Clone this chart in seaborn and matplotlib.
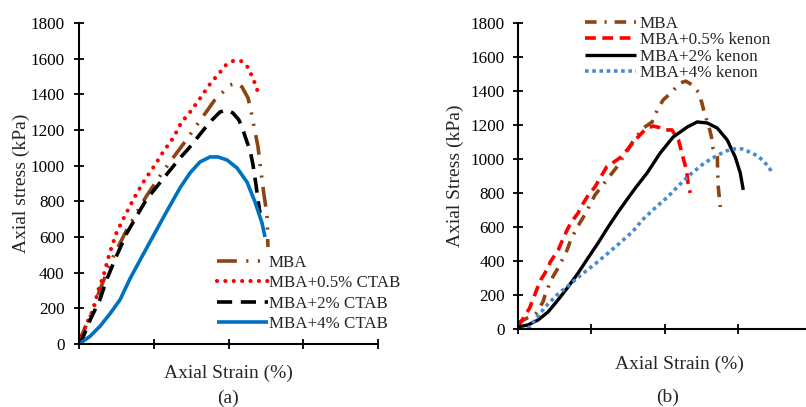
import numpy as np
import pandas as pd
import matplotlib
matplotlib.use("Agg")
import matplotlib.pyplot as plt
import seaborn as sns

sns.set_style("white")
plt.rcParams['font.family'] = ['Liberation Serif', 'DejaVu Serif']

# ---------------- Panel (a): CTAB ----------------
a_mba_x = [0.0, 0.01, 0.15, 0.28, 0.46, 0.64, 0.77, 0.90, 1.08, 1.24, 1.44, 1.605, 1.712, 1.806, 1.926,
           2.020, 2.114, 2.181, 2.261, 2.301, 2.395, 2.435, 2.475, 2.515, 2.528]
a_mba_y = [0, 24, 155, 305, 492, 641, 735, 828, 940, 1034, 1146, 1245, 1307, 1363, 1413,
           1452, 1464, 1441, 1380, 1307, 1105, 965, 836, 723, 544]

a_c05_x = [0.0, 0.013, 0.11, 0.19, 0.26, 0.325, 0.41, 0.50, 0.61, 0.75, 0.88, 1.02, 1.13, 1.26, 1.365,
           1.498, 1.632, 1.753, 1.900, 1.967, 2.060, 2.167, 2.247, 2.301, 2.341, 2.381, 2.408]
a_c05_y = [0, 24, 121, 193, 305, 379, 510, 622, 716, 828, 921, 1006, 1080, 1155, 1239,
           1307, 1385, 1458, 1531, 1565, 1587, 1587, 1559, 1514, 1475, 1430, 1385]

a_c2_x = [0.0, 0.04, 0.15, 0.28, 0.37, 0.50, 0.64, 0.77, 0.90, 1.08, 1.26, 1.351, 1.472, 1.579, 1.686,
          1.779, 1.886, 1.980, 2.060, 2.140, 2.194, 2.247, 2.288, 2.328, 2.368, 2.395, 2.421]
a_c2_y = [0, 24, 136, 249, 361, 492, 622, 716, 809, 903, 996, 1043, 1099, 1155, 1211,
          1256, 1301, 1312, 1295, 1256, 1200, 1133, 1088, 1004, 892, 807, 735]

a_c4_x = [0.0, 0.147, 0.28, 0.415, 0.55, 0.683, 0.82, 0.95, 1.17, 1.351, 1.485, 1.619, 1.753, 1.860,
          1.980, 2.114, 2.248, 2.355, 2.448, 2.488]
a_c4_y = [0, 43, 99, 170, 249, 367, 473, 573, 741, 875, 959, 1021, 1049, 1049,
          1032, 987, 908, 796, 679, 600]

a_labels = ["MBA", "MBA+0.5% CTAB", "MBA+2% CTAB", "MBA+4% CTAB"]

# ---------------- Panel (b): kenon ----------------
b_mba_x = [0.0, 0.25, 0.34, 0.37, 0.45, 0.53, 0.59, 0.67, 0.72, 0.81, 0.91, 0.96, 1.05, 1.19, 1.35,
           1.58, 1.71, 1.83, 1.90, 1.98, 2.10, 2.21, 2.29, 2.38, 2.46, 2.51, 2.55, 2.60, 2.64, 2.66,
           2.72, 2.73, 2.76]
b_mba_y = [35, 94, 159, 200, 288, 347, 394, 465, 524, 600, 671, 712, 788, 865, 954,
           1111, 1182, 1218, 1288, 1347, 1394, 1447, 1458, 1435, 1394, 1329, 1259, 1200, 1129, 1065,
           1012, 847, 718]

b_k05_x = [0.0, 0.03, 0.16, 0.19, 0.27, 0.31, 0.41, 0.44, 0.55, 0.59, 0.67, 0.72, 0.82, 0.86, 0.96,
           1.05, 1.21, 1.39, 1.49, 1.60, 1.73, 1.84, 1.93, 2.01, 2.10, 2.19, 2.25, 2.30, 2.32, 2.35]
b_k05_y = [14, 35, 124, 159, 247, 288, 359, 394, 465, 506, 582, 624, 682, 718, 788,
           835, 954, 1006, 1053, 1112, 1171, 1194, 1185, 1171, 1171, 1112, 1012, 935, 859, 800]

b_k2_x = [0.0, 0.137, 0.273, 0.41, 0.546, 0.683, 0.82, 0.956, 1.093, 1.23, 1.366, 1.503, 1.612,
          1.762, 1.940, 2.117, 2.309, 2.445, 2.582, 2.719, 2.855, 2.964, 3.033, 3.074]
b_k2_y = [12, 24, 53, 100, 171, 247, 329, 418, 506, 600, 688, 771, 835,
          918, 1035, 1129, 1188, 1218, 1212, 1182, 1112, 1012, 918, 818]

b_k4_x = [0.137, 0.23, 0.37, 0.53, 0.70, 0.86, 1.05, 1.23, 1.39, 1.56, 1.71, 1.87, 2.04, 2.20,
          2.36, 2.54, 2.73, 2.84, 2.94, 3.06, 3.16, 3.27, 3.35, 3.42, 3.48]
b_k4_y = [0, 53, 129, 200, 259, 318, 382, 447, 506, 571, 647, 712, 776, 847,
          912, 976, 1024, 1047, 1059, 1059, 1041, 1018, 988, 953, 912]

b_labels = ["MBA", "MBA+0.5% kenon", "MBA+2% kenon", "MBA+4% kenon"]

y_ticks = [0, 200, 400, 600, 800, 1000, 1200, 1400, 1600, 1800]

brown = "#8B4513"
red = "#FF0000"
black = "#000000"
blue_a = "#0070C0"
blue_b = "#4A8BD0"

W, H = 806, 407
fig = plt.figure(figsize=(W / 100, H / 100), dpi=100)

def px_axes(x0, y0, x1, y1):
    return fig.add_axes([x0 / W, 1 - y1 / H, (x1 - x0) / W, (y1 - y0) / H])

axA = px_axes(79, 23, 378, 344)
axB = px_axes(518, 23, 806, 329)

def draw(ax, xs, ys, label, color, lw, dashes, cap="butt"):
    df = pd.DataFrame({"x": xs, "y": ys})
    sns.lineplot(data=df, x="x", y="y", ax=ax, color=color, linewidth=lw,
                 sort=False, estimator=None, label=label)
    line = ax.get_lines()[-1]
    if dashes is not None:
        line.set_dashes(dashes)
    line.set_dash_capstyle(cap)
    line.set_solid_capstyle("butt")
    line.set_solid_joinstyle("round")
    line.set_dash_joinstyle("round")

# panel a
draw(axA, a_mba_x, a_mba_y, a_labels[0], brown, 2.6, (5.5, 2.6, 0.6, 2.6, 0.6, 2.6))
draw(axA, a_c05_x, a_c05_y, a_labels[1], red, 3.0, (0.01, 2.0), cap="round")
draw(axA, a_c2_x, a_c2_y, a_labels[2], black, 2.6, (4.2, 2.4))
draw(axA, a_c4_x, a_c4_y, a_labels[3], blue_a, 2.6, None)

# panel b
draw(axB, b_mba_x, b_mba_y, b_labels[0], brown, 2.6, (3.2, 2.2, 0.6, 2.2))
draw(axB, b_k05_x, b_k05_y, b_labels[1], red, 2.6, (3.0, 1.8))
draw(axB, b_k2_x, b_k2_y, b_labels[2], black, 2.4, None)
draw(axB, b_k4_x, b_k4_y, b_labels[3], blue_b, 2.6, (1.0, 1.0))

for ax, xmax, pad in [(axA, 4.0, 7), (axB, 3.93, 6)]:
    ax.set_xlim(0, xmax)
    ax.set_ylim(0, 1800)
    ax.set_yticks(y_ticks)
    ax.set_yticklabels([str(v) for v in y_ticks], fontsize=12.3)
    ax.set_xticks([0, 1, 2, 3, 4] if xmax >= 4 else [0, 1, 2, 3])
    ax.set_xticklabels([])
    for s in ["top", "right"]:
        ax.spines[s].set_visible(False)
    for s in ["left", "bottom"]:
        ax.spines[s].set_color("black")
        ax.spines[s].set_linewidth(1.5)
    ax.tick_params(axis="both", bottom=True, left=True, direction="inout",
                   length=7, width=1.3, colors="black")
    ax.tick_params(axis="y", pad=pad)
    ax.grid(False)

axA.set_ylabel("Axial stress (kPa)", fontsize=14)
axA.set_xlabel("Axial Strain (%)", fontsize=14)
axA.xaxis.set_label_coords(0.5, -0.065)
axA.yaxis.set_label_coords(-0.164, 0.5)

axB.set_ylabel("Axial Stress (kPa)", fontsize=14)
axB.set_xlabel("Axial Strain (%)", fontsize=14)
axB.xaxis.set_label_coords(0.559, -0.088)
axB.yaxis.set_label_coords(-0.187, 0.5)

legA = axA.legend(loc="upper left", bbox_to_anchor=(217 / W, 1 - 255 / H),
                  bbox_transform=fig.transFigure, frameon=False, fontsize=12.2,
                  borderpad=0, borderaxespad=0, handlelength=3.0,
                  handletextpad=0.05, labelspacing=0.26)

legB = axB.legend(loc="upper left", bbox_to_anchor=(585 / W, 1 - 15.5 / H),
                  bbox_transform=fig.transFigure, frameon=False, fontsize=12.3,
                  borderpad=0, borderaxespad=0, handlelength=3.0,
                  handletextpad=0.22, labelspacing=0.03)

fig.text(228 / W, 1 - 398 / H, "(a)", ha="center", va="center", fontsize=14)
fig.text(668 / W, 1 - 397 / H, "(b)", ha="center", va="center", fontsize=14)

fig.savefig("out.png", dpi=100)
